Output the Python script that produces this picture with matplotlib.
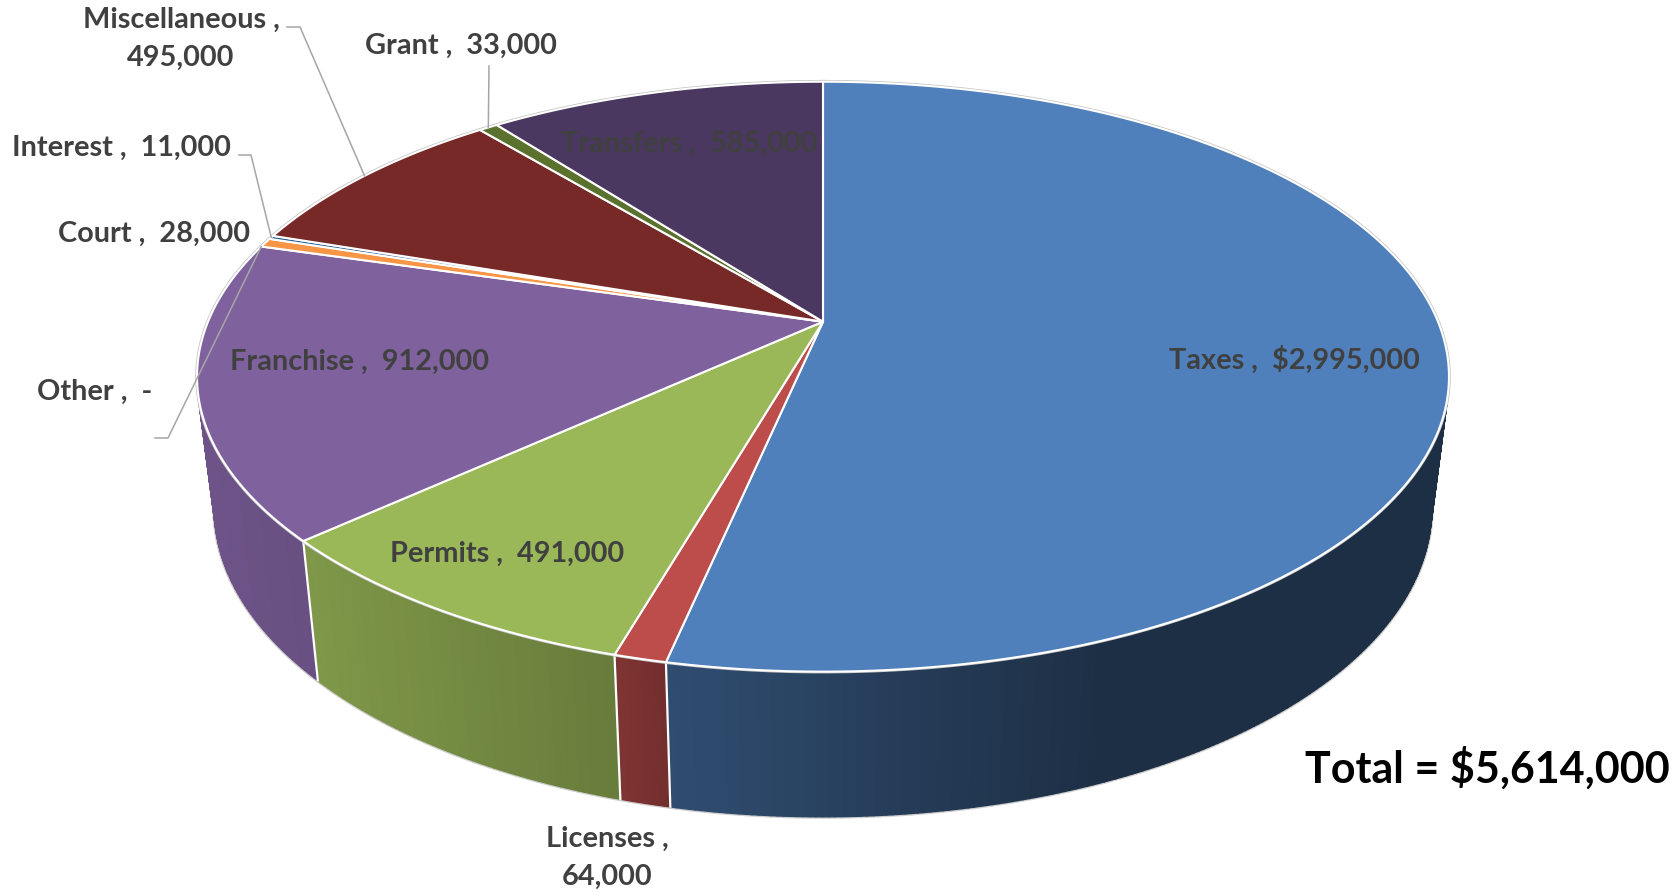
#coding: utf-8
import numpy as np
import matplotlib
matplotlib.use('Agg')
import matplotlib.pyplot as plt
from matplotlib.collections import PolyCollection

plt.rcParams['font.family'] = ['Lato', 'DejaVu Sans']

names = ['Taxes', 'Licenses', 'Permits', 'Franchise', 'Other', 'Court', 'Interest',
		'Miscellaneous', 'Grant', 'Transfers']
values = [2995000, 64000, 491000, 912000, 0, 28000, 11000, 495000, 33000, 585000]
colors = ['#4f80bb', '#bc4d4b', '#9ab858', '#7f619e', '#4bacc6', '#f79646', '#2c5c8f',
		'#772927', '#5b722e', '#4b3860']
label_txt = ['Taxes ,  $2,995,000', 'Licenses ,\n64,000', 'Permits ,  491,000',
		'Franchise ,  912,000', 'Other ,  -', 'Court ,  28,000', 'Interest ,  11,000',
		'Miscellaneous ,\n495,000', 'Grant ,  33,000', 'Transfers ,  585,000']
total_txt = 'Total = $5,614,000'

# disc geometry, in pixels
cx, cy = 823.0, 321.7
a, b, k = 615.0, 284.7, 0.1864
shrink, stretch, shift = 0.972, 1.044, 115.4

# wall darkening against screen x
shade_x = [200, 310, 620, 670, 850, 1100, 1450]
shade_f = [0.86, 0.82, 0.67, 0.60, 0.50, 0.37, 0.37]


def top_xy(deg):
	t = np.radians(deg)
	w = 1 + k * np.cos(t)
	return cx + a * np.sin(t) / w, cy - b * np.cos(t) / w


def bottom_xy(deg):
	x, y = top_xy(deg)
	return cx + shrink * (x - cx), y * stretch + shift


def shade(col, x):
	f = np.interp(x, shade_x, shade_f)
	return tuple(c * f for c in matplotlib.colors.to_rgb(col))


def draw_walls(ax, a0, a1, col):
	n = max(int((a1 - a0) * 2), 1)
	grid = np.linspace(a0, a1, n + 1)
	quads = []
	cols = []
	for d0, d1 in zip(grid[:-1], grid[1:]):
		x0, y0 = top_xy(d0)
		x1, y1 = top_xy(d1)
		x2, y2 = bottom_xy(d1)
		x3, y3 = bottom_xy(d0)
		quads.append([(x0, y0), (x1, y1), (x2, y2), (x3, y3)])
		cols.append(shade(col, (x0 + x1) / 2))
	ax.add_collection(PolyCollection(quads, facecolors=cols, edgecolors=cols, linewidths=1.3, zorder=2))


fig = plt.figure(figsize=(16.81, 8.93), dpi=100)
ax = fig.add_axes([0, 0, 1, 1])
ax.set_xlim(0, 1681)
ax.set_ylim(893, 0)
ax.axis('off')

edges = np.cumsum([0] + values) / sum(values) * 360.0

# pale outline around the whole solid, the walls sit on top of it
arc = np.linspace(0, 360, 721)
ax.plot(*top_xy(arc), color='#c4c4c4', lw=2.6, zorder=3)
ax.plot(*bottom_xy(np.linspace(80, 280, 400)), color='#cdcdcd', lw=3.2, zorder=1)

# side walls, only the part facing the viewer shows
for i, col in enumerate(colors):
	a0, a1 = edges[i], edges[i + 1]
	lo, hi = max(a0, 75), min(a1, 285)
	if values[i] > 0 and lo < hi:
		draw_walls(ax, lo, hi, col)

for d in edges[1:4]:
	x0, y0 = top_xy(d)
	x1, y1 = bottom_xy(d)
	ax.plot([x0, x1], [y0, y1], color='white', lw=1.6, zorder=2.5)

# top face
for i, col in enumerate(colors):
	if values[i] == 0:
		continue
	ang = np.linspace(edges[i], edges[i + 1], max(int(values[i] / sum(values) * 720), 2) + 1)
	x, y = top_xy(ang)
	ax.fill(np.r_[cx, x], np.r_[cy, y], facecolor=col, edgecolor='white', lw=1.5,
			joinstyle='round', zorder=4)

# leader lines for the small slices
leaders = {'Miscellaneous': (287, 300, 27), 'Grant': (489, 489, 66),
		'Interest': (239, 251, 155), 'Other': (155, 168, 438)}
for nm, (x0, x1, yl) in leaders.items():
	i = names.index(nm)
	xe, ye = top_xy((edges[i] + edges[i + 1]) / 2)
	ax.plot([x0, x1, xe], [yl, yl, ye], color='#a6a6a6', lw=1.1, zorder=5)

label_pos = [(1294, 360), (607, 858), (507, 554), (360, 362), (95, 392), (154, 234),
		(121, 148), (181, 39), (461, 46), (689, 144)]
for txt, (x, y) in zip(label_txt, label_pos):
	ax.text(x, y, txt, ha='center', va='center', fontsize=20.8, fontweight='bold',
			color='#404040', linespacing=1.6, zorder=6)

ax.text(1487, 768, total_txt, ha='center', va='center', fontsize=31, fontweight='bold',
		color='black', zorder=6)

fig.savefig('out.png', dpi=100)
plt.close()
